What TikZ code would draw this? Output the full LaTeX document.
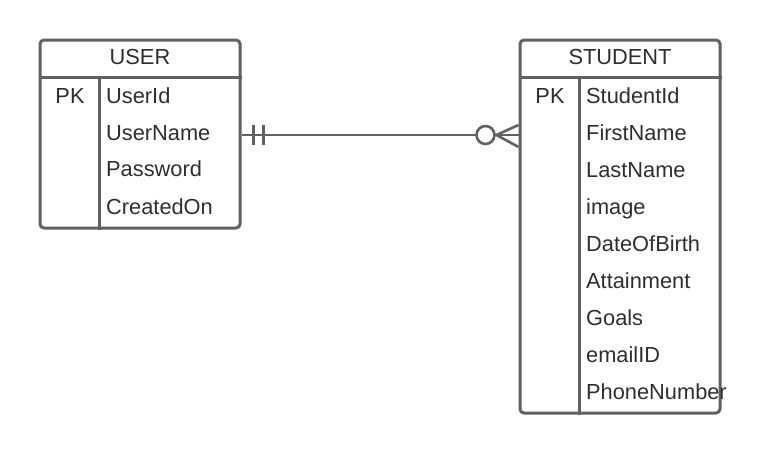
\documentclass[tikz,border=0pt]{standalone}
\usepackage{fontspec}
\setmainfont{Liberation Sans}
\usetikzlibrary{positioning, calc}
\definecolor{linegray}{HTML}{616161}
\definecolor{textgray}{HTML}{2E2E2E}

\begin{document}
\begin{tikzpicture}[
    x=1pt, y=-1pt,
    entity/.style={rectangle, rounded corners=4pt, draw=linegray, line width=3pt, minimum width=200pt, inner sep=0pt},
    title/.style={inner sep=0pt, text height=15.5pt, text depth=0pt, font=\fontsize{21.8}{26}\selectfont, text=textgray},
    field/.style={anchor=west, inner sep=0pt, text height=15.5pt, text depth=0pt, font=\fontsize{21.8}{26}\selectfont, text=textgray},
    divider/.style={draw=linegray, line width=3pt},
    link/.style={draw=linegray, line width=2.6pt}
]
\useasboundingbox (0,0) rectangle (760,453);

% Entities
\node (user) [entity, minimum height=188pt] at (140,134) {};
\node (student) [entity, minimum height=373pt] at (620,226.5) {};

% Header and key column lines
\draw [divider] ([yshift=-39pt]user.north west) -- ([yshift=-39pt]user.north east);
\draw [divider] ([xshift=60.5pt,yshift=-39pt]user.north west) -- ([xshift=60.5pt]user.south west);
\draw [divider] ([yshift=-39pt]student.north west) -- ([yshift=-39pt]student.north east);
\draw [divider] ([xshift=60.5pt,yshift=-39pt]student.north west) -- ([xshift=60.5pt]student.south west);

% Titles
\node (usertitle) [title] at (140,57) {USER};
\node (studenttitle) [title] at (620,57) {STUDENT};

% USER fields
\node (userpk) [title] at (70,96) {PK};
\node (uid) [field] at (106,96) {UserId};
\node (uname) [field] at (106,133) {UserName};
\node (upass) [field] at (106,169) {Password};
\node (ucreated) [field] at (106,207) {CreatedOn};

% STUDENT fields
\node (studentpk) [title] at (550,96) {PK};
\foreach \name/\label [count=\i from 0] in {sid/StudentId, sfirst/FirstName, slast/LastName, simage/image, sbirth/DateOfBirth, sattain/Attainment, sgoals/Goals, semail/emailID, sphone/PhoneNumber}
    \node (\name) [field] at (586,96+37*\i) {\label};

% Relationship
\coordinate (uend) at ($(user.east)+(0,1)$);
\coordinate (send) at (student.west |- uend);
\coordinate (ring) at ($(send)+(-33,0)$);
\coordinate (foot) at ($(send)+(-22,0)$);
\draw [link] (uend) -- ($(ring)+(-9,0)$);
\draw [link] ($(ring)+(9,0)$) -- (send);
\draw [link] (ring) circle (9);
\draw [link] ($(uend)+(12,-10)$) -- ($(uend)+(12,10)$);
\draw [link] ($(uend)+(22,-10)$) -- ($(uend)+(22,10)$);
\draw [link] (send |- 0,125) -- (foot) -- (send |- 0,147);

\end{tikzpicture}
\end{document}
